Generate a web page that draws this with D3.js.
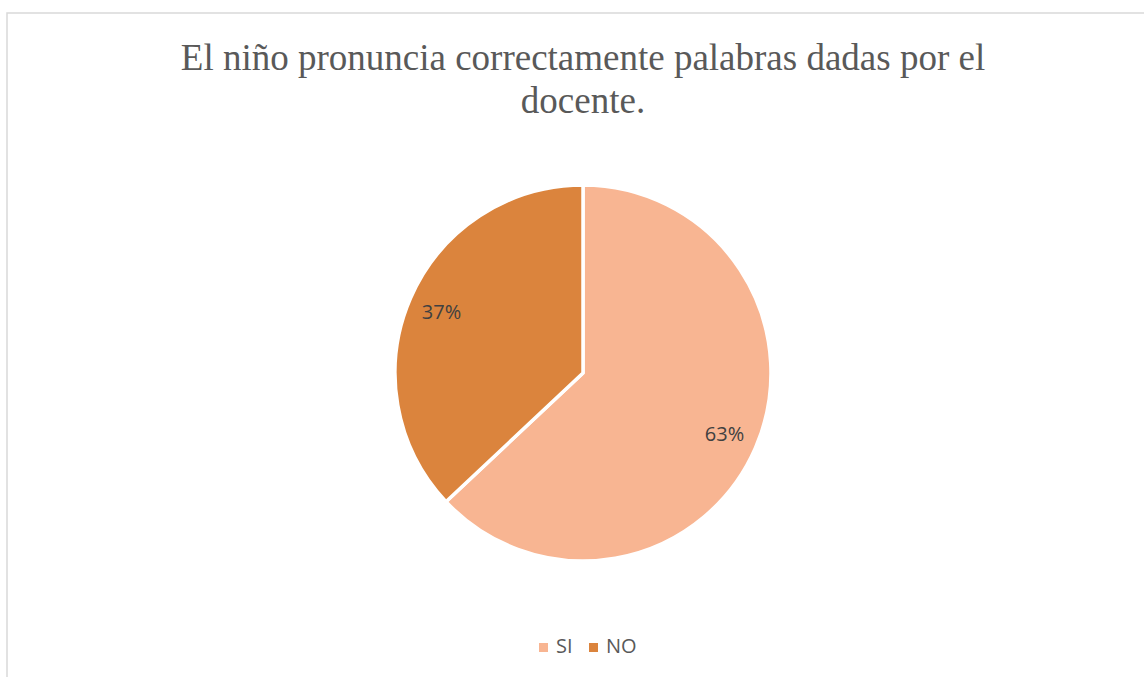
<!DOCTYPE html>
<html>
<head>
<meta charset="utf-8">
<script src="https://cdn.jsdelivr.net/npm/d3@7"></script>
<style>
  body { margin: 0; background: #fff; }
  svg { display: block; }
</style>
</head>
<body>
<svg></svg>
<script>
const categories = ["SI", "NO"];
const values = [63, 37];
const colors = ["#F8B592", "#DB843D"];
const titleLines = ["El niño pronuncia correctamente palabras dadas por el", "docente."];

const width = 1144, height = 677;
const svg = d3.select("svg").attr("width", width).attr("height", height);

// chart frame (cut off on the right and bottom)
svg.append("rect")
    .attr("x", 7).attr("y", 13)
    .attr("width", 1160).attr("height", 700)
    .attr("fill", "none")
    .attr("stroke", "#d9d9d9")
    .attr("stroke-width", 1.5);

// title
svg.append("g").selectAll("text")
    .data(titleLines)
    .enter().append("text")
    .attr("x", 583)
    .attr("y", (d, i) => 70 + i * 43)
    .attr("text-anchor", "middle")
    .attr("font-family", "'Liberation Serif', 'Times New Roman', serif")
    .attr("font-size", "37px")
    .attr("fill", "#595959")
    .text(d => d);

// pie
const cx = 583, cy = 373, radius = 188;
const pieData = categories.map((c, i) => ({ name: c, value: values[i] }));
const pie = d3.pie().value(d => d.value).sort(null);
const arc = d3.arc().innerRadius(0).outerRadius(radius);
const color = d3.scaleOrdinal().domain(categories).range(colors);
const arcs = pie(pieData);

const pieGroup = svg.append("g").attr("transform", `translate(${cx}, ${cy})`);

pieGroup.selectAll("path")
    .data(arcs)
    .enter().append("path")
    .attr("d", arc)
    .attr("fill", d => color(d.data.name))
    .attr("stroke", "#fff")
    .attr("stroke-width", 3.5)
    .attr("stroke-linejoin", "round");

// data labels
const labelArc = d3.arc().innerRadius(radius * 0.82).outerRadius(radius * 0.82);
pieGroup.selectAll("text.label")
    .data(arcs)
    .enter().append("text")
    .attr("class", "label")
    .attr("transform", d => {
        const c = labelArc.centroid(d);
        return `translate(${c[0]}, ${c[1] + 7})`;
    })
    .attr("text-anchor", "middle")
    .attr("font-family", "'Open Sans', 'Liberation Sans', sans-serif")
    .attr("font-size", "20px")
    .attr("fill", "#404040")
    .text(d => d.data.value + "%");

// legend
const legend = svg.append("g").attr("transform", "translate(539, 653)");
const legendX = [0, 50];
categories.forEach((c, i) => {
    legend.append("rect")
        .attr("x", legendX[i]).attr("y", -10)
        .attr("width", 9).attr("height", 9)
        .attr("fill", color(c));
    legend.append("text")
        .attr("x", legendX[i] + 17)
        .attr("y", 0)
        .attr("font-family", "'Open Sans', 'Liberation Sans', sans-serif")
        .attr("font-size", "20px")
        .attr("fill", "#595959")
        .text(c);
});
</script>
</body>
</html>
